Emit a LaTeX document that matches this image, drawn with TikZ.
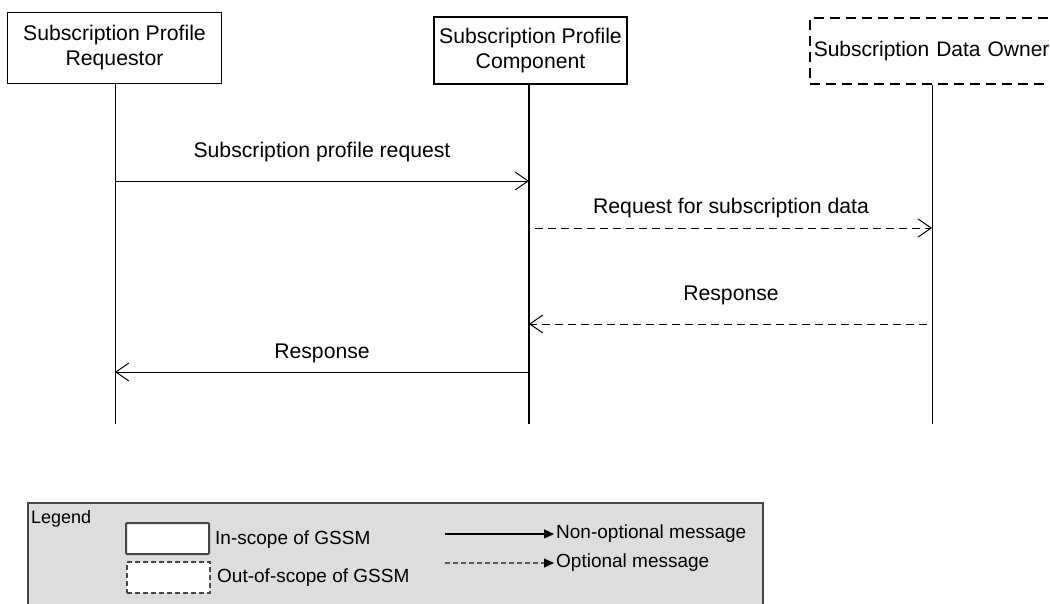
\documentclass[tikz,border=0pt]{standalone}
\usepackage{fontspec}
\setmainfont{Liberation Sans}
\usetikzlibrary{arrows.meta}
\definecolor{legfill}{RGB}{221,221,221}
\definecolor{legline}{RGB}{70,70,70}
\begin{document}
\begin{tikzpicture}[x=1pt,y=-1pt,
  every node/.style={font=\fontsize{21.2}{25}\selectfont, inner sep=0pt},
  actor/.style={draw, line width=1pt, fill=white, align=center, anchor=north west},
  life/.style={line width=1pt},
  msg/.style={line width=1pt, -{Straight Barb[length=13pt,width=18pt,line width=1pt]}},
  optmsg/.style={msg, dash pattern=on 8pt off 5pt},
  legtext/.style={font=\fontsize{19}{22}\selectfont, anchor=west},
  legbox/.style={fill=white, minimum width=83pt, minimum height=31pt, anchor=north west}
]
\useasboundingbox (0,0) rectangle (1050,603);
\clip (0,0) rectangle (1050,603);

% participants
\node[actor, minimum width=214pt, minimum height=71pt] (req) at (7,12) {Subscription Profile\\Requestor};
\node[actor, line width=2pt, minimum width=193pt, minimum height=67pt] (comp) at (433,16) {Subscription Profile\\Component};
\node[actor, dash pattern=on 10pt off 6pt, line width=1.5pt, minimum width=270pt, minimum height=66pt,
      inner xsep=4pt, text width=262pt, align=left, font=\fontsize{21}{25}\selectfont] (owner) at (809,17) {Subscription Data Owner};

% lifelines
\coordinate (reqBot) at (115,424);
\coordinate (compBot) at (529,424);
\coordinate (ownBot) at (932,424);
\draw[life] (reqBot |- req.south) -- (reqBot);
\draw[life, line width=2pt] (compBot |- comp.south) -- (compBot);
\draw[life] (ownBot |- owner.south) -- (ownBot);

% message rows
\coordinate (y1) at (0,181);
\coordinate (y2) at (0,228);
\coordinate (y3) at (0,324);
\coordinate (y4) at (0,372);

\draw[msg] (reqBot |- y1) -- (compBot |- y1);
\node (l1) at (322,152) {Subscription profile request};

\draw[optmsg, shorten <=6pt] (compBot |- y2) -- (ownBot |- y2);
\node (l2) at (731,208) {Request for subscription data};

\draw[optmsg, shorten <=5pt] (ownBot |- y3) -- (compBot |- y3);
\node (l3) at (731,295) {Response};

\draw[msg] (compBot |- y4) -- (reqBot |- y4);
\node (l4) at (322,353) {Response};

% legend
\draw[line width=1.5pt, draw=legline, fill=legfill] (28,503) rectangle (763,640);
\node[font=\fontsize{18}{21}\selectfont, anchor=base west] (legend) at (31,523) {Legend};
\node[legbox, draw=legline, line width=2pt, rounded corners=1pt] (inbox) at (125,522) {};
\node[legtext] (intext) at (215,540) {In-scope of GSSM};
\node[legbox, draw=legline, line width=1.5pt, dash pattern=on 5pt off 3pt] (outbox) at (126,561) {};
\node[legtext] (outtext) at (217,578) {Out-of-scope of GSSM};

\coordinate (s1) at (445,534);
\node[legtext] (nonopt) at (556,534) {Non-optional message};
\draw[line width=1.2pt, -{Triangle[length=10pt,width=9pt]}, shorten >=2pt] (s1) -- (nonopt.west);

\coordinate (s2) at (445,563);
\node[legtext] (optl) at (556,563) {Optional message};
\draw[line width=1.2pt, draw=black!65, dash pattern=on 5pt off 3pt, -{Triangle[length=10pt,width=9pt,color=black]}, shorten >=2pt] (s2) -- (optl.west);
\end{tikzpicture}
\end{document}
